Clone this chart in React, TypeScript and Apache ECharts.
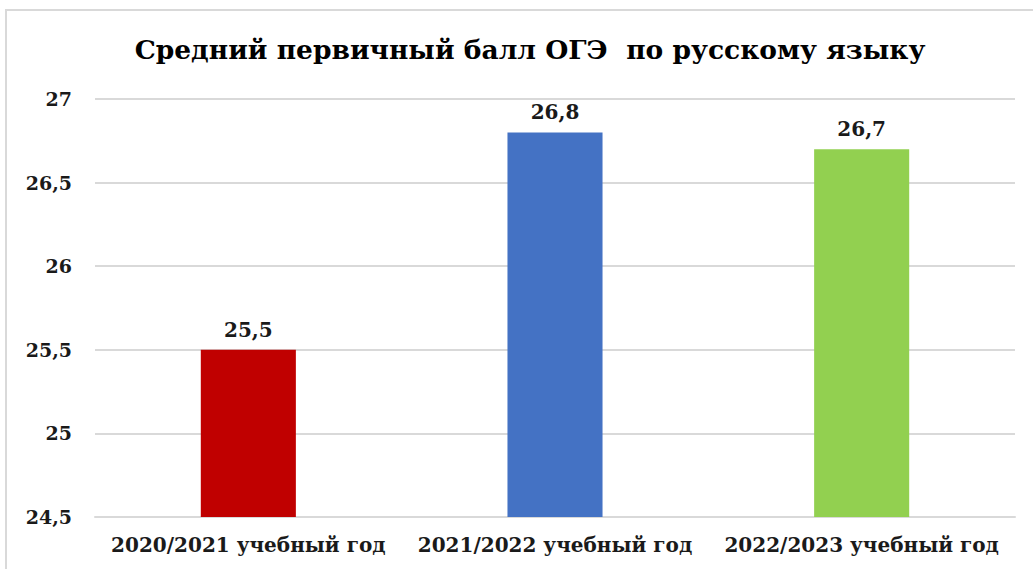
import React, { useEffect, useRef } from "react";
import * as echarts from "echarts";

const title = "Средний первичный балл ОГЭ  по русскому языку";
const categories = ["2020/2021 учебный год", "2021/2022 учебный год", "2022/2023 учебный год"];
const values = [25.5, 26.8, 26.7];
const barColors = ["#C00000", "#4472C4", "#92D050"];
const yMin = 24.5;
const yMax = 27;
const yStep = 0.5;

const fmt = (v: number) => String(v).replace(".", ",");
const serif = "DejaVu Serif";

export default function App() {
  const ref = useRef<HTMLDivElement>(null);
  useEffect(() => {
    if (!ref.current) return;
    const chart = echarts.init(ref.current, undefined, { renderer: "svg" });
    chart.setOption({
      animation: false,
      backgroundColor: "#ffffff",
      textStyle: { fontFamily: serif },
      title: {
        text: title,
        left: 525,
        textAlign: "center",
        top: 31,
        textStyle: { fontFamily: serif, fontWeight: "bold", fontSize: 26.5, color: "#000000" },
      },
      graphic: [
        {
          type: "rect",
          shape: { x: 6, y: 10, width: 1040, height: 580 },
          style: { fill: "none", stroke: "#d9d9d9", lineWidth: 2 },
          silent: true,
        },
      ],
      grid: { left: 95, right: 18, top: 99, bottom: 52, containLabel: false },
      xAxis: {
        type: "category",
        data: categories,
        axisLine: { lineStyle: { color: "#d9d9d9", width: 2 } },
        axisTick: { show: false },
        axisLabel: {
          interval: 0,
          margin: 18,
          fontFamily: serif,
          fontWeight: "bold",
          fontSize: 20,
          color: "#1a1a1a",
        },
      },
      yAxis: {
        type: "value",
        min: yMin,
        max: yMax,
        interval: yStep,
        axisLine: { show: false },
        axisTick: { show: false },
        splitLine: { lineStyle: { color: "#d9d9d9", width: 2 } },
        axisLabel: {
          margin: 23,
          fontFamily: serif,
          fontWeight: "bold",
          fontSize: 19,
          color: "#1a1a1a",
          formatter: (v: number) => fmt(v),
        },
      },
      series: [
        {
          type: "bar",
          barWidth: "31%",
          data: values.map((v, i) => ({ value: v, itemStyle: { color: barColors[i] } })),
          label: {
            show: true,
            position: "top",
            distance: 10,
            fontFamily: serif,
            fontWeight: "bold",
            fontSize: 20,
            color: "#1a1a1a",
            formatter: (p: any) => fmt(p.value),
          },
        },
      ],
    });
    return () => chart.dispose();
  }, []);
  return (
    <div
      ref={ref}
      style={{ position: "fixed", left: 0, top: 0, width: 1033, height: 569, background: "#fff" }}
    />
  );
}
